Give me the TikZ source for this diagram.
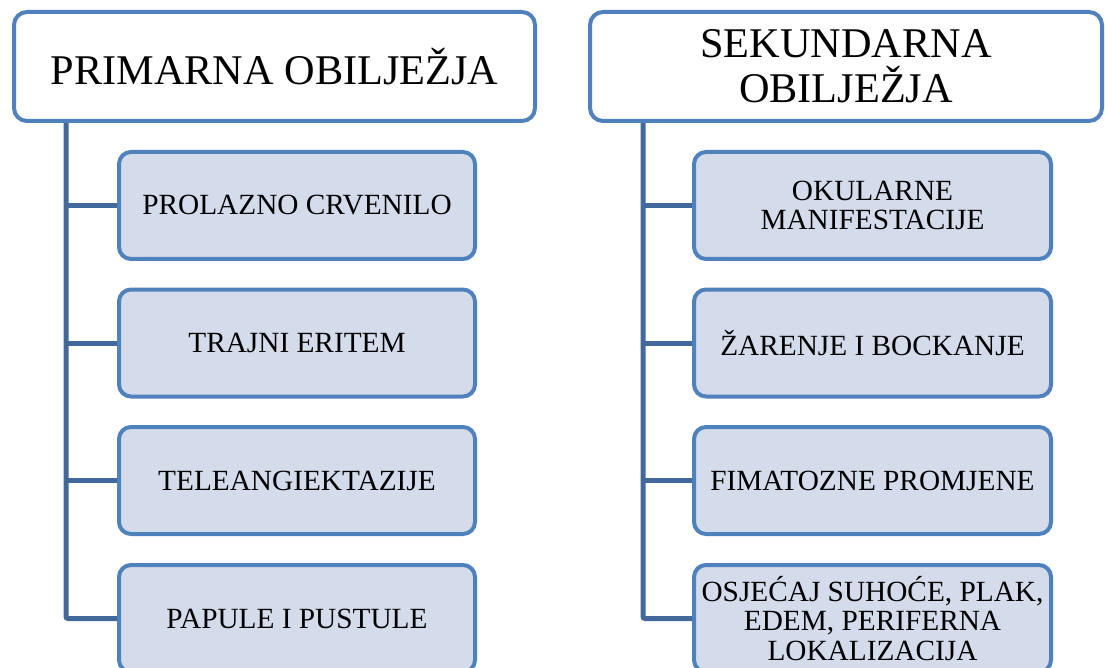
\documentclass[tikz,border=0pt]{standalone}
\usepackage{fontspec}
\setmainfont{Liberation Serif}
\definecolor{bordblue}{HTML}{4F81BD}
\definecolor{connblue}{HTML}{41699C}
\definecolor{childfill}{HTML}{D4DCEB}
\tikzset{
  headbox/.style={draw=bordblue, line width=4pt, fill=white, rounded corners=13pt,
    minimum height=109pt, align=center, inner sep=0pt,
    font=\fontsize{42.3}{45}\selectfont},
  childbox/.style={draw=bordblue, line width=4pt, fill=childfill, rounded corners=12pt,
    minimum width=356pt, minimum height=107pt, align=center, inner sep=0pt,
    font=\fontsize{29.3}{29.5}\selectfont},
  conn/.style={draw=connblue, line width=5pt, rounded corners=2pt}
}
\begin{document}
\begin{tikzpicture}[x=1pt,y=-1pt]
\useasboundingbox (0,0) rectangle (1105,668);
\clip (0,0) rectangle (1105,668);
% connector rails
\coordinate (lx) at (66,0);
\coordinate (rx) at (643,0);
% left column
\node[childbox] (l1) at (297,205.5) {PROLAZNO CRVENILO};
\node[childbox] (l2) at (297,343) {TRAJNI ERITEM};
\node[childbox] (l3) at (297,480.5) {TELEANGIEKTAZIJE};
\node[childbox] (l4) at (297,618.5) {PAPULE I PUSTULE};
% right column
\node[childbox, minimum width=357pt] (r1) at (872.5,205.5) {OKULARNE\\MANIFESTACIJE};
\node[childbox, minimum width=357pt] (r2) at (872.5,343) {ŽARENJE I BOCKANJE};
\node[childbox, minimum width=357pt] (r3) at (872.5,480.5) {FIMATOZNE PROMJENE};
\node[childbox, minimum width=357pt] (r4) at (872.5,618.5) {OSJEĆAJ SUHOĆE, PLAK,\\EDEM, PERIFERNA\\LOKALIZACIJA};
% connectors
\draw[conn] (lx |- 0,118) |- (l4.west);
\draw[conn] (l1.west -| lx) -- (l1.west);
\draw[conn] (l2.west -| lx) -- (l2.west);
\draw[conn] (l3.west -| lx) -- (l3.west);
\draw[conn] (rx |- 0,118) |- (r4.west);
\draw[conn] (r1.west -| rx) -- (r1.west);
\draw[conn] (r2.west -| rx) -- (r2.west);
\draw[conn] (r3.west -| rx) -- (r3.west);
% headers
\node[headbox, minimum width=521pt] (hl) at (274.5,66.5) {PRIMARNA OBILJEŽJA};
\node[headbox, minimum width=512pt] (hr) at (846,66.5) {SEKUNDARNA\\OBILJEŽJA};
\end{tikzpicture}
\end{document}
